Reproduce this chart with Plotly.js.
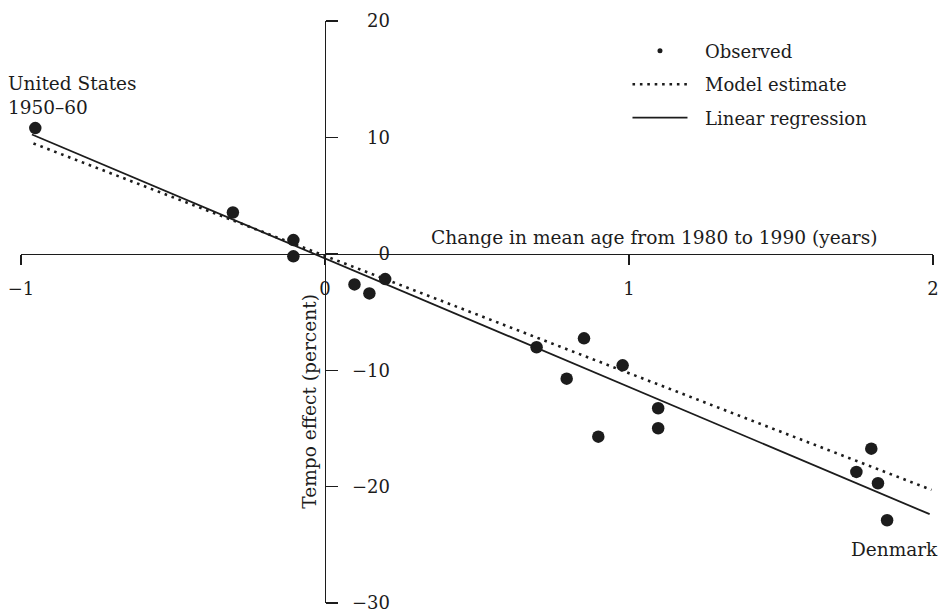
<!DOCTYPE html>
<html>
<head>
<meta charset="utf-8">
<script src="https://cdn.plot.ly/plotly-3.0.1.min.js"></script>
<style>html,body{margin:0;padding:0;background:#fff;}#chart{width:941px;height:613px;}</style>
</head>
<body>
<div id="chart"></div>
<script>
// Observed tempo effects
const obsX = [-0.953, -0.303, -0.104, -0.104, 0.097, 0.146, 0.198, 0.696, 0.795, 0.852, 0.899, 0.979, 1.096, 1.096, 1.748, 1.797, 1.819, 1.849];
const obsY = [10.8, 3.55, 1.18, -0.22, -2.63, -3.4, -2.17, -8.03, -10.73, -7.26, -15.71, -9.58, -13.27, -14.99, -18.74, -16.74, -19.71, -22.89];
// Model estimate (dotted)
const modelX = [-0.959, 1.995];
const modelY = [9.48, -20.28];
// Linear regression (solid)
const regX = [-0.964, 1.989];
const regY = [10.25, -22.37];
// Ticks
const xTickVals = [-1, 0, 1, 2];
const xTickText = ["\u22121", "0", "1", "2"];
const yTickVals = [-30, -20, -10, 0, 10, 20];
const yTickText = ["\u221230", "\u221220", "\u221210", "0", "10", "20"];
// Legend names
const seriesNames = ["Observed", "Model estimate", "Linear regression"];

const ink = "#1c1c1c";
const FONT = "DejaVu Serif, serif";
const pad = "\u2002\u2009";

const traces = [
  {x: obsX, y: obsY, type: "scatter", mode: "markers", name: seriesNames[0], showlegend: false,
   marker: {color: ink, size: 12.5}},
  {x: [null], y: [null], type: "scatter", mode: "markers", name: pad + seriesNames[0], yaxis: "y2",
   legendgroup: "a", marker: {color: ink, size: 5}},
  {x: modelX, y: modelY, type: "scatter", mode: "lines", name: pad + seriesNames[1],
   legendgroup: "b", line: {color: ink, width: 2.6, dash: "2.6px,4.8px"}},
  {x: regX, y: regY, type: "scatter", mode: "lines", name: pad + seriesNames[2],
   legendgroup: "c", line: {color: ink, width: 1.8}}
];

const layout = {
  width: 941, height: 613,
  margin: {l: 21, r: 8, t: 21, b: 10},
  paper_bgcolor: "#fff", plot_bgcolor: "#fff",
  font: {family: FONT, color: ink, size: 18},
  showlegend: true,
  legend: {x: 0.665, y: 0.98, xanchor: "left", yanchor: "top",
           bgcolor: "rgba(0,0,0,0)", font: {family: FONT, size: 18, color: ink},
           itemwidth: 55, tracegroupgap: 7, traceorder: "grouped"},
  xaxis: {range: [-1, 2], anchor: "free", position: 0.6, side: "bottom",
          showline: true, linecolor: ink, linewidth: 1.4, showgrid: false, zeroline: false,
          ticks: "outside", ticklen: 10, tickwidth: 1.4, tickcolor: ink, ticklabelstandoff: 8,
          tickvals: xTickVals, ticktext: xTickText, tickfont: {family: FONT, size: 18, color: ink}},
  yaxis: {range: [-30, 20], anchor: "free", position: 1/3, side: "right",
          showline: true, linecolor: ink, linewidth: 1.4, showgrid: false, zeroline: false,
          ticks: "outside", ticklen: 12, tickwidth: 1.4, tickcolor: ink,
          tickvals: yTickVals, showticklabels: false},
  yaxis2: {range: [-30, 20], overlaying: "y", anchor: "free", position: 0.4046, side: "left",
           showline: false, showgrid: false, zeroline: false, ticks: "",
           ticklabeloverflow: "allow",
           tickvals: yTickVals, ticktext: yTickText, tickfont: {family: FONT, size: 18, color: ink}},
  annotations: [
    {text: "Change in mean age from 1980 to 1990 (years)", xref: "x", yref: "y",
     x: 1.085, y: 1.43, showarrow: false, xanchor: "center", yanchor: "middle",
     font: {family: FONT, size: 18.6, color: ink}},
    {text: "Tempo effect (percent)", xref: "x", yref: "y", x: -0.052, y: -12.7,
     textangle: -90, showarrow: false, xanchor: "center", yanchor: "middle",
     font: {family: FONT, size: 18.6, color: ink}},
    {text: "United States<br>1950\u201360", xref: "x", yref: "y", x: -1, y: 13.58,
     xshift: -15, showarrow: false, xanchor: "left", yanchor: "middle", align: "left",
     font: {family: FONT, size: 18.5, color: ink}},
    {text: "Denmark", xref: "x", yref: "y", x: 1.873, y: -25.4,
     showarrow: false, xanchor: "center", yanchor: "middle",
     font: {family: FONT, size: 18.5, color: ink}}
  ]
};

Plotly.newPlot("chart", traces, layout, {staticPlot: true, displayModeBar: false});
</script>
</body>
</html>
